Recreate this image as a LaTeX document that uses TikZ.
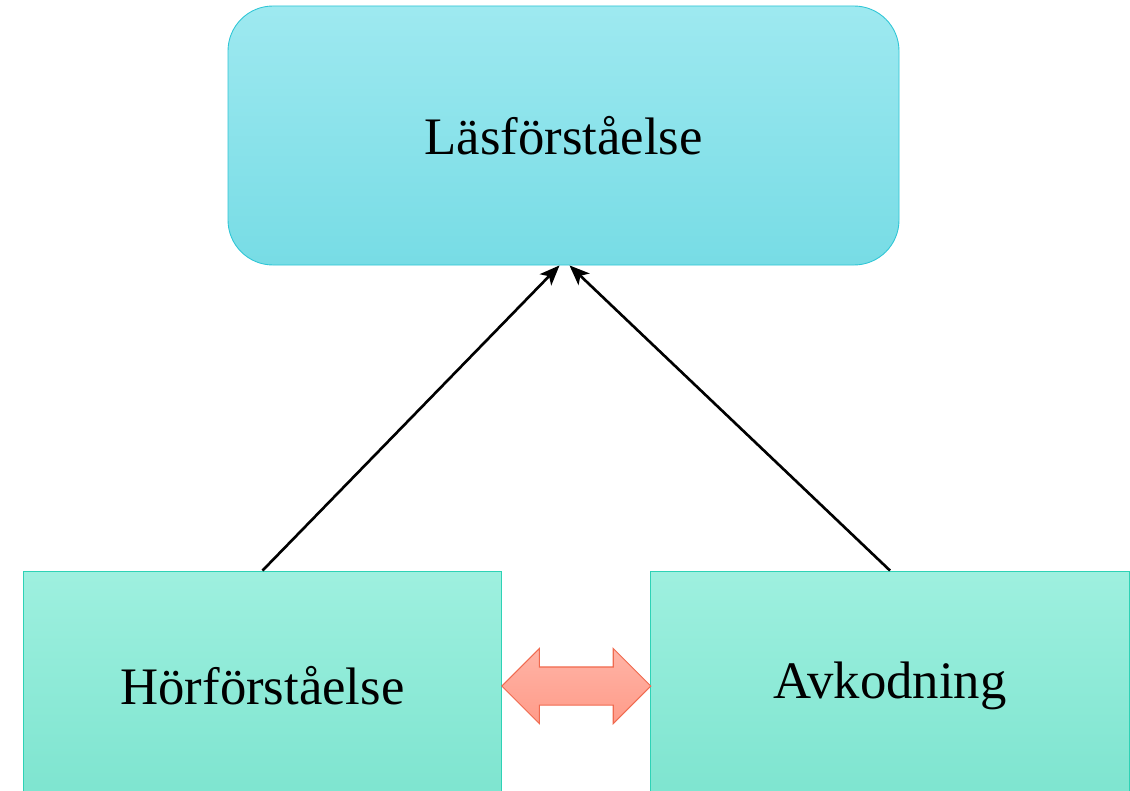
\documentclass[tikz,border=0pt]{standalone}
\usepackage{fontspec}
\setmainfont{Liberation Serif}
\usetikzlibrary{arrows,arrows.meta,positioning,calc,shapes.arrows}
\definecolor{topcyan}{HTML}{9EE9F0}
\definecolor{botcyan}{HTML}{77DCE5}
\definecolor{linecyan}{HTML}{2EC6D6}
\definecolor{topmint}{HTML}{9EF0DF}
\definecolor{botmint}{HTML}{7DE4CF}
\definecolor{linemint}{HTML}{2ED2B6}
\definecolor{topsalmon}{HTML}{FFB4A6}
\definecolor{botsalmon}{HTML}{FF9B89}
\definecolor{linesalmon}{HTML}{F06A4F}
\begin{document}
\begin{tikzpicture}[
  goal/.style={rectangle, rounded corners=0.9cm, draw=linecyan, line width=0.5pt,
    top color=topcyan, bottom color=botcyan, minimum width=13.42cm,
    minimum height=5.18cm, font=\fontsize{30}{36}\selectfont},
  part/.style={rectangle, draw=linemint, line width=0.5pt,
    top color=topmint, bottom color=botmint, minimum width=9.57cm,
    minimum height=4.6cm, font=\fontsize{30}{36}\selectfont},
  link/.style={-{Stealth[length=0.4cm,width=0.32cm,inset=0.1cm]}, line width=1.5pt},
  both/.style={double arrow, draw=linesalmon, line width=0.6pt,
    top color=topsalmon, bottom color=botsalmon, inner xsep=0pt,
    inner ysep=0.37cm, double arrow head extend=0.37cm,
    double arrow tip angle=90}
]
\clip (0,0) rectangle (22.6,-15.82);
\fill[white] (0,0) rectangle (22.6,-15.82);
\node[goal] (las) at (11.27,-2.71) {Läsförståelse};
\node[part] (hor) at (5.25,-13.72) {Hörförståelse};
\node[part] (avk) at (17.8,-13.72) {Avkodning};
\draw[link] (hor.north) -- ([xshift=-0.08cm]las.south);
\draw[link] (avk.north) -- ([xshift=0.12cm]las.south);
\node[both, minimum height=2.98cm] (hin) at ($(hor.east)!0.5!(avk.west)$) {};
\end{tikzpicture}
\end{document}
